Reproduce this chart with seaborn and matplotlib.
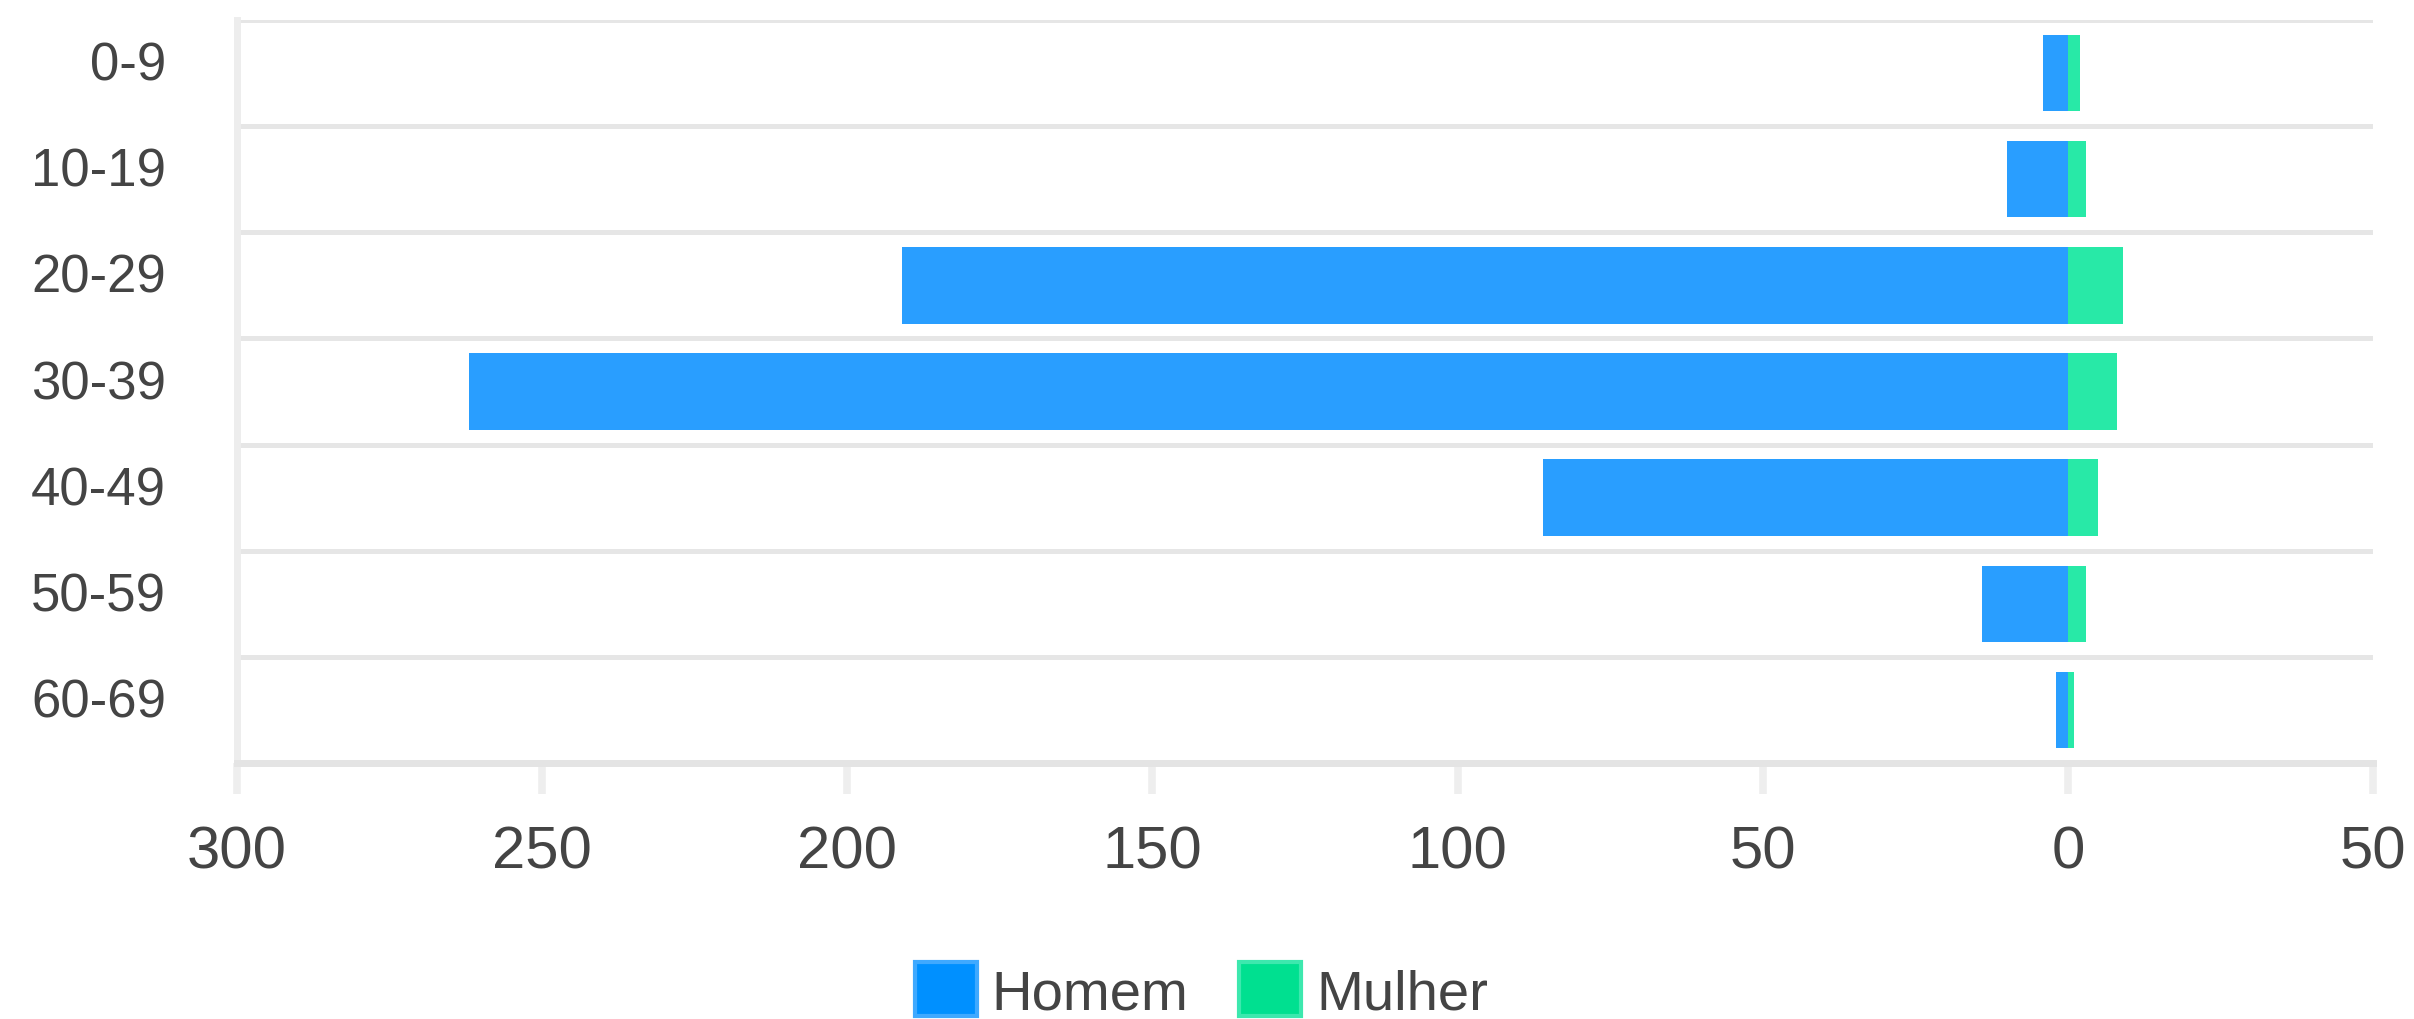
import numpy as np
import pandas as pd
import matplotlib
matplotlib.use("Agg")
import matplotlib.pyplot as plt
from matplotlib.patches import Patch
from matplotlib.ticker import FuncFormatter, FixedLocator
from matplotlib.transforms import ScaledTranslation
import seaborn as sns

categories = ["0-9", "10-19", "20-29", "30-39", "40-49", "50-59", "60-69"]
homem = [4, 10, 191, 262, 86, 14, 2]
mulher = [2, 3, 9, 8, 5, 3, 1]
x_ticks = [-300, -250, -200, -150, -100, -50, 0, 50]
series_names = ["Homem", "Mulher"]
bar_colors = ["#299EFF", "#28E9A7"]
legend_colors = ["#0090FF", "#00E090"]
legend_edges = ["#3FA9FF", "#3DE8AE"]

sns.set_theme(style="white")
plt.rcParams["font.family"] = ["Liberation Sans", "DejaVu Sans"]

df = pd.DataFrame({
    "Faixa": categories * 2,
    "Valor": [-v for v in homem] + mulher,
    "Sexo": ["Homem"] * len(categories) + ["Mulher"] * len(categories),
})

fig = plt.figure(figsize=(24.14, 10.2), dpi=100)
ax = fig.add_axes([237 / 2414, 1 - 764 / 1020, (2373 - 237) / 2414, (764 - 21) / 1020])

sns.barplot(data=df, x="Valor", y="Faixa", hue="Sexo", order=categories,
            hue_order=series_names, palette=bar_colors, dodge=False,
            orient="h", width=0.72, ax=ax, legend=False, saturation=1)
for p in ax.patches:
    p.set_edgecolor("none")

ax.set_xlim(-300, 50)
ax.set_ylim(len(categories) - 0.5, -0.5)
ax.xaxis.set_major_locator(FixedLocator(x_ticks))
ax.xaxis.set_major_formatter(FuncFormatter(lambda v, pos: f"{abs(int(round(v)))}"))
ax.set_xlabel("")
ax.set_ylabel("")

ax.yaxis.set_minor_locator(FixedLocator(np.arange(-0.5, len(categories), 1.0)))
ax.grid(which="minor", axis="y", color="#E6E6E6", linewidth=3.6)
ax.grid(which="major", axis="x", visible=False)
ax.set_axisbelow(True)

for s in ["top", "right"]:
    ax.spines[s].set_visible(False)
ax.spines["left"].set_color("#EDEDED")
ax.spines["left"].set_linewidth(5)
ax.spines["bottom"].set_color("#E4E4E4")
ax.spines["bottom"].set_linewidth(5)

ax.tick_params(axis="x", which="major", length=22, width=5.5, color="#EEEEEE",
               pad=22, labelsize=43, labelcolor="#444444", bottom=True)
ax.tick_params(axis="y", which="both", length=0, pad=51, labelsize=38,
               labelcolor="#444444")

offset = ScaledTranslation(0, 13 / 100, fig.dpi_scale_trans)
for lbl in ax.get_yticklabels():
    lbl.set_transform(lbl.get_transform() + offset)

handles = [Patch(facecolor=c, edgecolor=e, linewidth=3)
           for c, e in zip(legend_colors, legend_edges)]
fig.legend(handles, series_names, loc="center", bbox_to_anchor=(0.4977, 0.027),
           ncol=2, frameon=False, fontsize=40.5, handlelength=1.1, handleheight=1.1,
           handletextpad=0.27, columnspacing=0.9, labelcolor="#444444",
           borderpad=0, borderaxespad=0)

fig.savefig("out.png", dpi=100)
